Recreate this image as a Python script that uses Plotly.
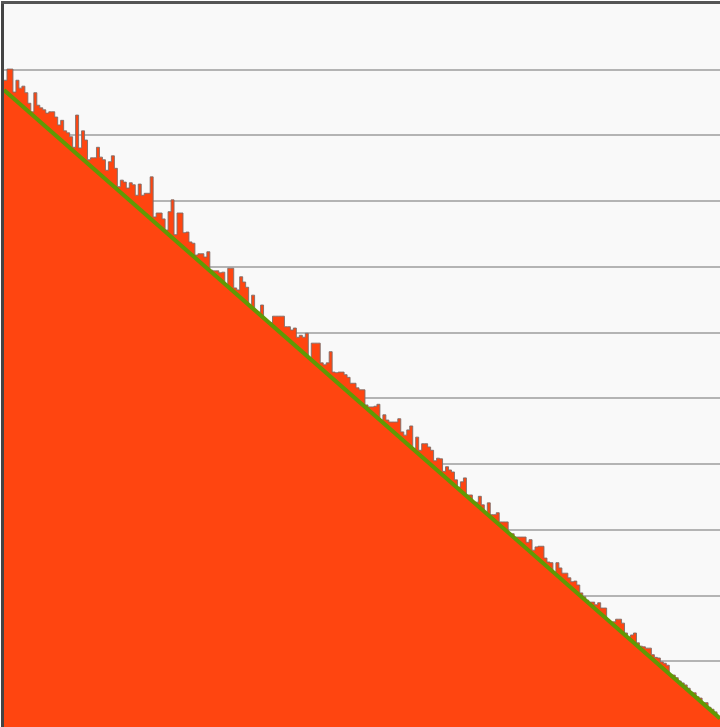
import plotly.graph_objects as go

# Bar values (step area), one per category index
values = [
    98.4, 100.1, 100.1, 96.6, 98.4, 97.2, 97.5, 96.5, 94.9, 93.6,
    96.5, 94.6, 94.2, 93.9, 93.4, 93.6, 93.6, 92.8, 91.6, 92.3,
    90.7, 90.4, 89.8, 88.2, 93.1, 88.1, 90.7, 89.3, 86.3, 86.6,
    86.6, 88.2, 86.7, 86.3, 84.7, 86.0, 86.9, 85.0, 82.2, 83.2,
    82.9, 82.0, 82.8, 82.5, 80.9, 82.6, 80.9, 81.2, 81.2, 83.7,
    77.6, 78.2, 78.2, 77.3, 75.6, 78.4, 80.2, 74.9, 78.2, 78.2,
    75.2, 75.3, 73.8, 73.6, 71.8, 72.0, 72.0, 71.5, 72.3, 69.5,
    69.4, 69.4, 69.1, 69.2, 67.2, 69.8, 69.8, 66.8, 66.5, 68.5,
    67.7, 66.9, 64.1, 65.7, 63.3, 63.1, 64.2, 62.1, 61.6, 61.5,
    62.5, 62.5, 62.5, 62.5, 60.9, 60.9, 60.4, 60.7, 59.3, 59.6,
    59.3, 59.9, 56.1, 58.4, 58.4, 58.4, 55.4, 55.1, 55.4, 57.1,
    54.0, 53.9, 54.0, 54.0, 53.6, 53.2, 52.3, 52.3, 51.6, 51.3,
    51.3, 49.0, 48.7, 48.7, 48.8, 49.1, 46.7, 47.5, 46.7, 46.4,
    46.4, 46.4, 46.9, 44.9, 44.4, 45.2, 45.8, 42.4, 44.1, 42.1,
    43.1, 43.1, 42.6, 42.1, 40.5, 40.9, 40.8, 38.9, 39.6, 39.1,
    38.8, 37.6, 36.5, 37.3, 37.9, 35.3, 35.3, 34.1, 34.2, 35.1,
    33.8, 32.6, 34.1, 32.3, 32.3, 32.6, 31.2, 31.2, 31.2, 29.5,
    29.4, 28.9, 28.9, 28.9, 28.9, 28.1, 28.5, 26.9, 27.4, 27.5,
    27.5, 25.7, 25.1, 25.0, 23.6, 25.0, 24.2, 23.4, 23.4, 22.7,
    22.1, 22.2, 21.6, 20.4, 19.8, 19.3, 19.0, 19.0, 18.6, 18.9,
    18.1, 18.1, 16.3, 16.0, 16.0, 16.4, 16.4, 15.8, 14.3, 13.7,
    14.0, 14.3, 12.8, 12.3, 12.2, 12.0, 12.0, 11.0, 10.6, 10.5,
    9.9, 9.7, 9.4, 7.9, 7.9, 7.5, 7.0, 6.7, 6.4, 5.9,
    5.3, 5.2, 4.6, 4.4, 3.7, 3.7, 3.0, 2.7, 2.3, 1.4,
]

# Trend line end points (start and end of the category range)
trend_values = [96.9, 1.3]

n = len(values)
x_edges = list(range(n + 1))
y_steps = values + [values[-1]]

fig = go.Figure()
fig.add_trace(go.Scatter(
    x=x_edges, y=y_steps, mode="lines", line_shape="hv",
    fill="tozeroy", fillcolor="#FF4510",
    line=dict(color="rgba(125,110,105,0.9)", width=1),
    hoverinfo="skip", showlegend=False,
))
fig.add_trace(go.Scatter(
    x=[0, n], y=trend_values, mode="lines",
    line=dict(color="#5f9a05", width=4),
    showlegend=False,
))

fig.update_layout(
    width=720, height=727,
    margin=dict(l=4, r=0, t=4, b=0),
    paper_bgcolor="white",
    plot_bgcolor="#f9f9f9",
    showlegend=False,
)
fig.update_xaxes(
    range=[0, n], showgrid=False, zeroline=False,
    showticklabels=False, ticks="",
    showline=True, mirror=True, linecolor="#555555", linewidth=3,
    layer="below traces",
)
fig.update_yaxes(
    range=[0, 110], dtick=10, showgrid=True, gridcolor="#b4b4b4", gridwidth=2,
    zeroline=False, showticklabels=False, ticks="",
    showline=True, linecolor="#444444", linewidth=3,
    layer="below traces",
)

fig.write_html(
    "out.html",
    config={"displayModeBar": False},
    post_script="document.body.style.margin='0';document.body.style.overflow='hidden';",
)
